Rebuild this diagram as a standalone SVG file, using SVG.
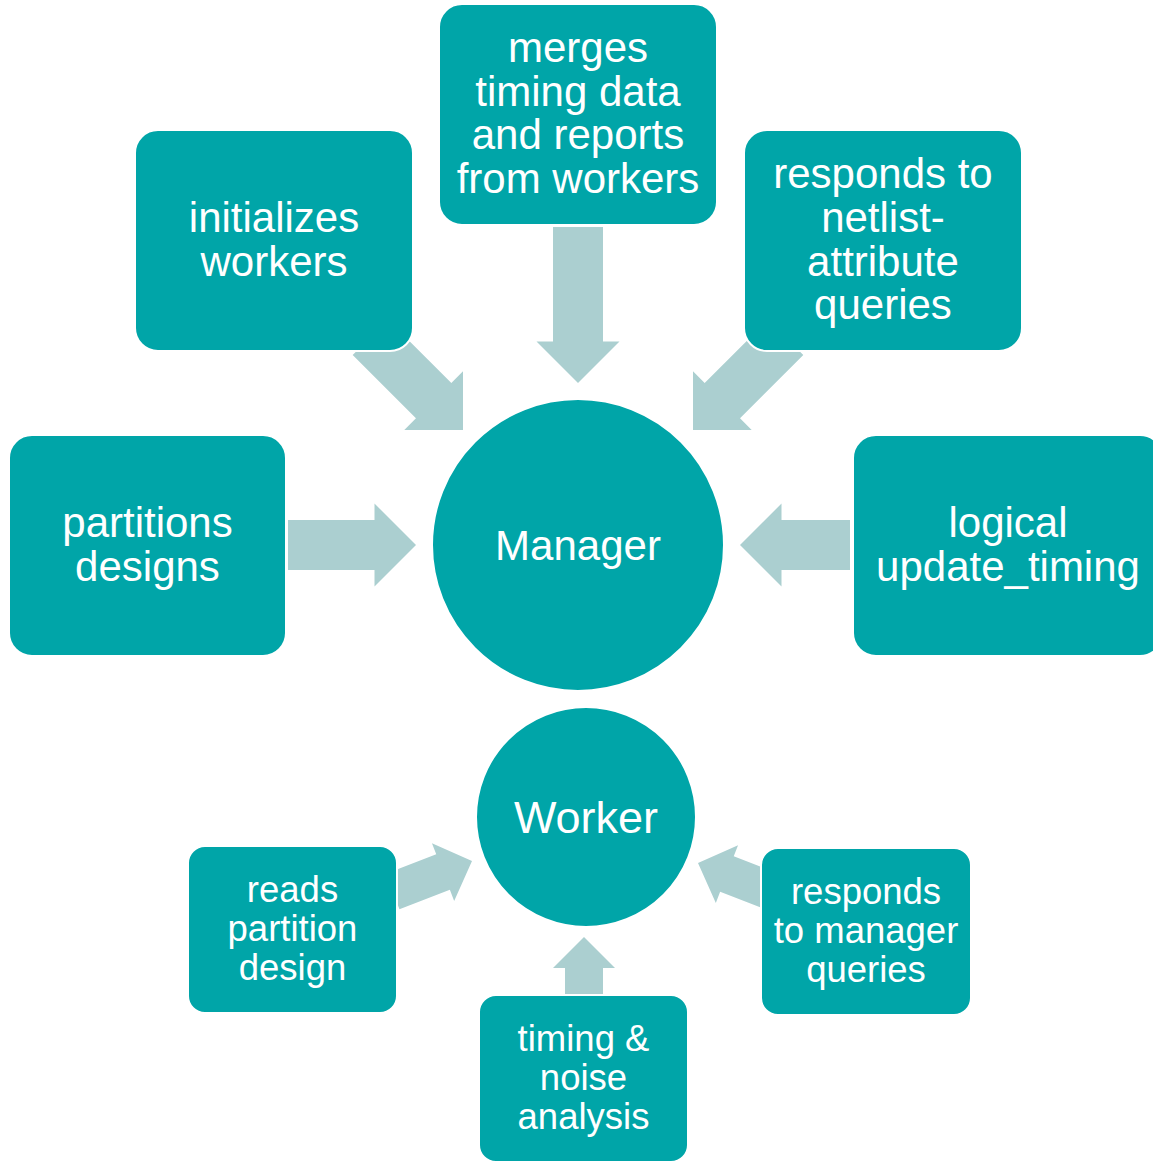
<svg xmlns="http://www.w3.org/2000/svg" width="1153" height="1163" viewBox="0 0 1153 1163">
  <style>
    .box { fill: #00A5A8; stroke: #ffffff; stroke-width: 2; }
    .arrow { fill: #ABCFD0; }
    .lbl { font-family: "Liberation Sans", Arial, sans-serif; fill: #ffffff; text-anchor: middle; }
    .big { font-size: 42px; }
    .small { font-size: 36.5px; }
  </style>
  <rect width="1153" height="1163" fill="#ffffff"/>

  <!-- block arrows; each is drawn with its tip at the local origin, pointing along +x -->
  <g id="connectors">
    <polygon class="arrow" transform="translate(578,383) rotate(90)" points="-156,-25 -41.5,-25 -41.5,-41.5 0,0 -41.5,41.5 -41.5,25 -156,25"/>
    <polygon class="arrow" transform="translate(463,430) rotate(45)" points="-131,-25 -41.5,-25 -41.5,-41.5 0,0 -41.5,41.5 -41.5,25 -131,25"/>
    <polygon class="arrow" transform="translate(693,430) rotate(135)" points="-131,-25 -41.5,-25 -41.5,-41.5 0,0 -41.5,41.5 -41.5,25 -131,25"/>
    <polygon class="arrow" transform="translate(416,545)" points="-128,-25 -41.5,-25 -41.5,-41.5 0,0 -41.5,41.5 -41.5,25 -128,25"/>
    <polygon class="arrow" transform="translate(740,545) rotate(180)" points="-110,-25 -41.5,-25 -41.5,-41.5 0,0 -41.5,41.5 -41.5,25 -110,25"/>
    <polygon class="arrow" transform="translate(472,861) rotate(-21)" points="-85,-19 -31,-19 -31,-31 0,0 -31,31 -31,19 -85,19"/>
    <polygon class="arrow" transform="translate(698,863) rotate(201)" points="-85,-19 -31,-19 -31,-31 0,0 -31,31 -31,19 -85,19"/>
    <polygon class="arrow" transform="translate(584,937) rotate(-90)" points="-57,-19 -31,-19 -31,-31 0,0 -31,31 -31,19 -57,19"/>
  </g>

  <g id="merges">
    <rect class="box" x="439" y="4" width="278" height="221" rx="23"/>
    <text class="lbl big"><tspan x="578" y="62">merges</tspan><tspan x="578" y="105.5">timing data</tspan><tspan x="578" y="149">and reports</tspan><tspan x="578" y="192.5">from workers</tspan></text>
  </g>

  <g id="initializes">
    <rect class="box" x="135" y="130" width="278" height="221" rx="23"/>
    <text class="lbl big"><tspan x="274" y="232">initializes</tspan><tspan x="274" y="276">workers</tspan></text>
  </g>

  <g id="responds-netlist">
    <rect class="box" x="744" y="130" width="278" height="221" rx="23"/>
    <text class="lbl big"><tspan x="883" y="188">responds to</tspan><tspan x="883" y="232">netlist-</tspan><tspan x="883" y="275.5">attribute</tspan><tspan x="883" y="319">queries</tspan></text>
  </g>

  <g id="partitions">
    <rect class="box" x="9" y="435" width="277" height="221" rx="23"/>
    <text class="lbl big"><tspan x="147.5" y="537">partitions</tspan><tspan x="147.5" y="581">designs</tspan></text>
  </g>

  <g id="logical">
    <rect class="box" x="853" y="435" width="310" height="221" rx="23"/>
    <text class="lbl big"><tspan x="1008" y="537">logical</tspan><tspan x="1008" y="581">update_timing</tspan></text>
  </g>

  <g id="manager">
    <circle class="box" cx="578" cy="545" r="146"/>
    <text class="lbl big" x="578" y="560">Manager</text>
  </g>

  <g id="worker">
    <circle class="box" cx="586" cy="817" r="110"/>
    <text class="lbl" x="586" y="833" font-size="45">Worker</text>
  </g>

  <g id="reads">
    <rect class="box" x="188" y="846" width="209" height="167" rx="17"/>
    <text class="lbl small"><tspan x="292.5" y="902">reads</tspan><tspan x="292.5" y="941">partition</tspan><tspan x="292.5" y="980">design</tspan></text>
  </g>

  <g id="responds-manager">
    <rect class="box" x="761" y="848" width="210" height="167" rx="17"/>
    <text class="lbl small"><tspan x="866" y="904">responds</tspan><tspan x="866" y="943">to manager</tspan><tspan x="866" y="982">queries</tspan></text>
  </g>

  <g id="timing-noise">
    <rect class="box" x="479" y="995" width="209" height="167" rx="17"/>
    <text class="lbl small"><tspan x="583.5" y="1051">timing &amp;</tspan><tspan x="583.5" y="1090">noise</tspan><tspan x="583.5" y="1129">analysis</tspan></text>
  </g>
</svg>
